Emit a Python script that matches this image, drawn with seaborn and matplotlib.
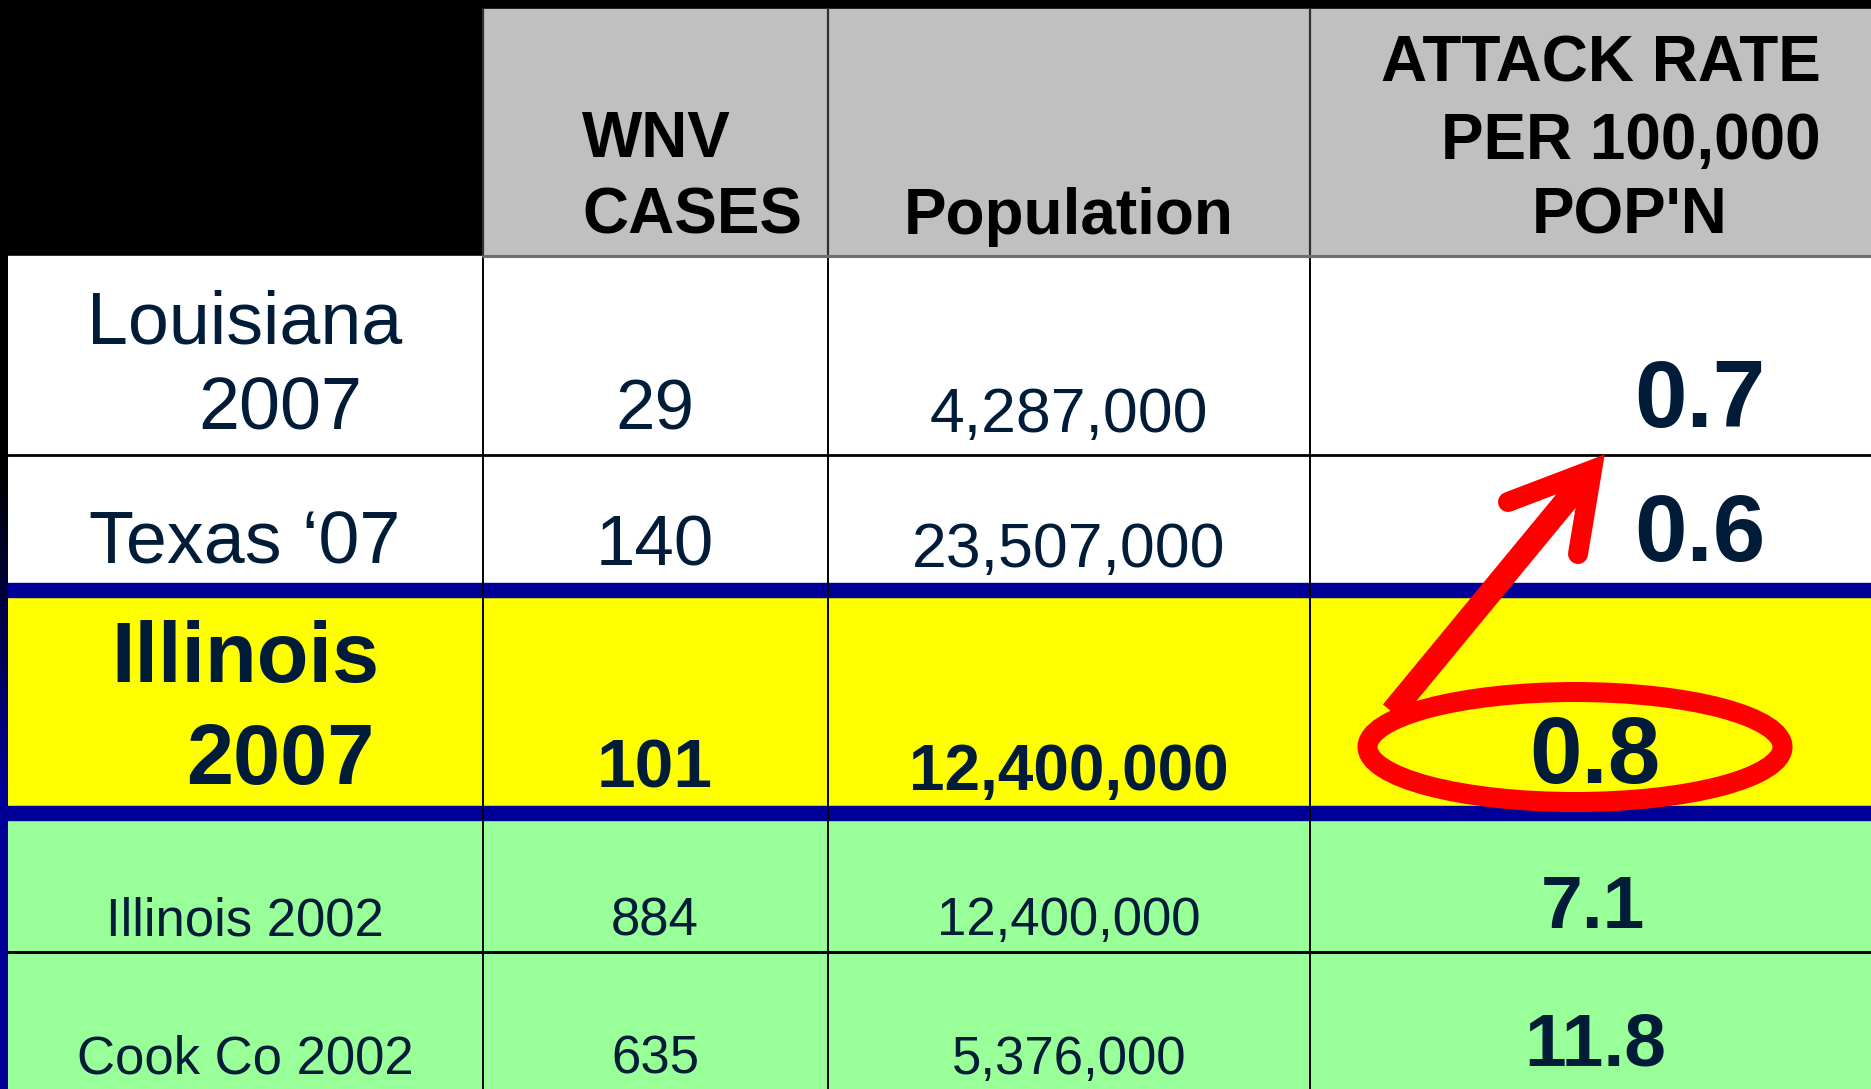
import matplotlib.pyplot as plt
import matplotlib.patches as mpatches
import matplotlib.font_manager as fm
import seaborn as sns
import numpy as np
import pandas as pd

# DATA
regions = ["Louisiana\n2007", "Texas \u201807", "Illinois\n2007", "Illinois 2002", "Cook Co 2002"]
wnv_cases = [29, 140, 101, 884, 635]
population = [4287000, 23507000, 12400000, 12400000, 5376000]
attack_rate = [0.7, 0.6, 0.8, 7.1, 11.8]
header_cases = ["WNV", "CASES"]
header_pop = "Population"
header_rate = ["ATTACK RATE", "PER 100,000", "POP'N"]

df = pd.DataFrame({"region": regions, "cases": wnv_cases,
                   "population": population, "rate": attack_rate})

# STYLE
sns.set_theme(style="white")
plt.rcParams["font.family"] = ["Liberation Sans", "DejaVu Sans"]
names = {f.name for f in fm.fontManager.ttflist}
has_narrow = "Liberation Sans Narrow" in names

NAVY = "#001c38"
BLUE = "#000099"
W, H = 1871, 1089

fig = plt.figure(figsize=(W / 100, H / 100), dpi=100)
ax = fig.add_axes([0, 0, 1, 1])
ax.set_xlim(0, W)
ax.set_ylim(H, 0)
ax.axis("off")

# layout (pixels)
col_edges = [8, 483, 828, 1310, W]
row_spans = [(256, 455), (455, 583), (597, 806), (820, 952), (952, H)]
row_bg = ["white", "white", "#ffff00", "#99ff99", "#99ff99"]
blue_bands = [(583, 597), (806, 820)]

# backgrounds
ax.add_patch(mpatches.Rectangle((0, 0), W, H, color="black", zorder=0))
ax.add_patch(mpatches.Rectangle((483, 9), W - 483, 247, color="#c0c0c0", zorder=1))
for (y0, y1), c in zip(row_spans, row_bg):
    ax.add_patch(mpatches.Rectangle((8, y0), W - 8, y1 - y0, color=c, zorder=1))
for y0, y1 in blue_bands:
    ax.add_patch(mpatches.Rectangle((8, y0), W - 8, y1 - y0, color=BLUE, zorder=2))

# left edge strip: black fading to blue
grad = np.linspace(0, 1, 256).reshape(-1, 1)
grad = np.clip((grad - 0.25) / 0.4, 0, 1)
strip = np.dstack([np.zeros_like(grad), np.zeros_like(grad), grad * 0.6])
ax.imshow(strip, extent=(0, 8, H, 256), aspect="auto", zorder=2)

# grid lines
for x in col_edges[1:4]:
    ax.plot([x, x], [9, 256], color="#303030", lw=1.6, zorder=3)
    ax.plot([x, x], [256, H], color="black", lw=1.4, zorder=3)
ax.plot([483, W], [256, 256], color="#6e6e6e", lw=2.2, zorder=3)
ax.plot([8, W], [455, 455], color="black", lw=2.0, zorder=3)
ax.plot([8, W], [952, 952], color="black", lw=2.2, zorder=3)

# header text
hdr = dict(color="black", fontweight="bold", fontsize=46, va="baseline", zorder=5)
ax.text(582, 157, header_cases[0], ha="left", **hdr)
ax.text(582, 234, header_cases[1], ha="left", **hdr)
ax.text(1069, 234, header_pop, ha="center", **hdr)
ax.text(1821, 81, header_rate[0], ha="right", **hdr)
ax.text(1821, 159, header_rate[1], ha="right", **hdr)
ax.text(1630, 234, header_rate[2], ha="center", **hdr)

# per-row text layout
region_base = [[344, 430], [564], [682, 784], [935], [1074]]
cases_base = [430, 566, 788, 935, 1074]
pop_base = [432, 567, 790, 935, 1074]
rate_base = [427, 561, 783, 928, 1065]
rate_x = [1700, 1700, 1595, 1593, 1595]
region_fs = [53, 53, 61, 38, 38]
cases_fs = [51, 51, 50, 38, 38]
pop_fs = [45, 45, 46, 38, 38]
rate_fs = [68, 68, 68, 54, 54]
weights = ["normal", "normal", "bold", "normal", "normal"]

for i, row in df.iterrows():
    fam = ["Liberation Sans", "DejaVu Sans"]
    scale = 1.0
    if i >= 3 and has_narrow:
        fam = ["Liberation Sans Narrow", "Liberation Sans"]
        scale = 45 / 38
    kw = dict(color=NAVY, fontweight=weights[i], va="baseline", ha="center",
              family=fam, zorder=5)
    for j, line in enumerate(row["region"].split("\n")):
        ax.text(245 + (35 if j > 0 else 0), region_base[i][j], line,
                fontsize=region_fs[i] * scale, **kw)
    ax.text(655, cases_base[i], f"{row['cases']}", fontsize=cases_fs[i] * scale, **kw)
    ax.text(1069, pop_base[i], f"{row['population']:,}", fontsize=pop_fs[i] * scale, **kw)
    ax.text(rate_x[i], rate_base[i], f"{row['rate']:.1f}", color=NAVY,
            fontweight="bold", fontsize=rate_fs[i], va="baseline", ha="center", zorder=5)

# red highlight: ellipse and arrow
ax.add_patch(mpatches.Ellipse((1575, 747), 415, 110, fill=False, ec="#ff0000",
                              lw=14.4, zorder=6))
ax.plot([1392, 1590], [712, 472], color="#ff0000", lw=17, solid_capstyle="butt", zorder=6)
ax.plot([1508, 1592, 1578], [502, 470, 554], color="#ff0000", lw=14.4,
        solid_capstyle="round", solid_joinstyle="miter", zorder=6)

fig.savefig("out.png", dpi=100)
